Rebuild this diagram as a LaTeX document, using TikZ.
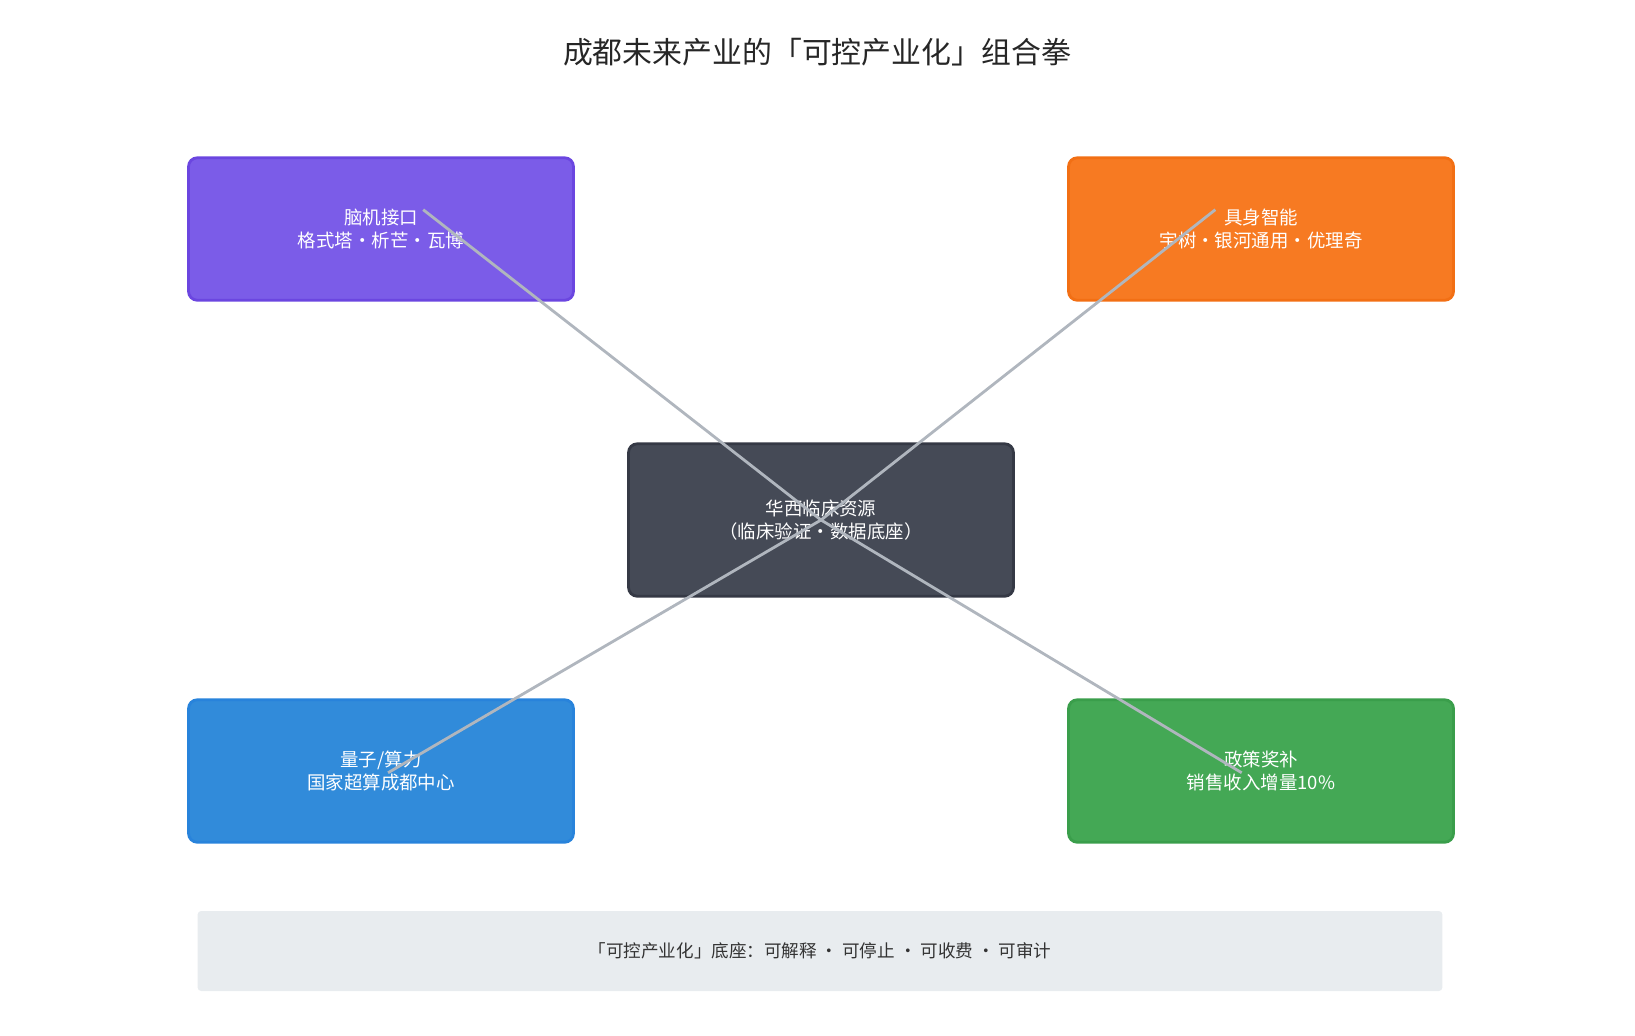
\documentclass[tikz,border=0pt]{standalone}
\usepackage{fontspec}
\setmainfont{Noto Sans CJK SC}
\definecolor{naoji}{HTML}{7B5CE8}
\definecolor{naojid}{HTML}{6B46E0}
\definecolor{jushen}{HTML}{F77A22}
\definecolor{jushend}{HTML}{F26F14}
\definecolor{huaxi}{HTML}{454A56}
\definecolor{huaxid}{HTML}{353945}
\definecolor{liangzi}{HTML}{318BDA}
\definecolor{liangzid}{HTML}{2883DB}
\definecolor{zhengce}{HTML}{44A855}
\definecolor{zhengced}{HTML}{3A9E4B}
\definecolor{lianxian}{HTML}{B0B6BE}
\definecolor{dizuo}{HTML}{E8ECEF}
\begin{document}
\begin{tikzpicture}[x=0.02cm, y=-0.02cm,
                    box/.style={rounded corners=5pt, line width=1.6pt, minimum width=7.7cm,
                                minimum height=2.85cm, align=center, text=white, font=\fontsize{10.5}{13}\selectfont},
                    link/.style={draw=lianxian, line width=1.6pt},
                ]
                \useasboundingbox (0,0) rectangle (1635,1035);
                \node[font=\fontsize{17}{20}\selectfont, text=black!85] (title) at (817,52) {成都未来产业的「可控产业化」组合拳};
                \node[box, fill=naoji, draw=naojid] (naoji) at (381,229) {脑机接口\\格式塔·析芒·瓦博};
                \node[box, fill=jushen, draw=jushend] (jushen) at (1261,229) {具身智能\\宇树·银河通用·优理奇};
                \node[box, fill=huaxi, draw=huaxid, minimum height=3.05cm] (huaxi) at (821,520) {华西临床资源\\（临床验证·数据底座）};
                \node[box, fill=liangzi, draw=liangzid] (liangzi) at (381,771) {量子/算力\\国家超算成都中心};
                \node[box, fill=zhengce, draw=zhengced] (zhengce) at (1261,771) {政策奖补\\销售收入增量10\%};
                \node[fill=dizuo, rounded corners=2pt, minimum width=24.9cm, minimum height=1.6cm,
                      text=black!80, font=\fontsize{10}{12}\selectfont] (dizuo) at (820,951)
                      {「可控产业化」底座：可解释 · 可停止 · 可收费 · 可审计};
                % connectors
                \draw[link] (huaxi.center) -- ([xshift=24,yshift=11]naoji.center);
                \draw[link] (huaxi.center) -- ([xshift=-26,yshift=11]jushen.center);
                \draw[link] (huaxi.center) -- ([xshift=4,yshift=-1]liangzi.center);
                \draw[link] (huaxi.center) -- ([xshift=-11,yshift=-1]zhengce.center);
\end{tikzpicture}
\end{document}
